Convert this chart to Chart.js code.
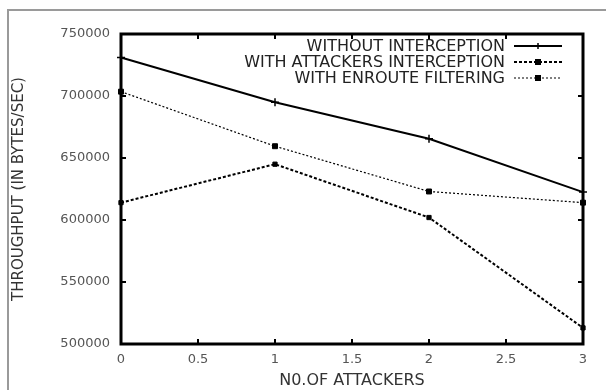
<!DOCTYPE html>
<html>
<head>
<meta charset="utf-8">
<script src="https://cdn.jsdelivr.net/npm/chart.js@4"></script>
<style>
  html, body { margin: 0; padding: 0; background: #fff; }
  #wrap { width: 606px; height: 390px; position: relative; }
</style>
</head>
<body>
<div id="wrap"><canvas id="myChart" width="606" height="390"></canvas></div>
<script>
let attackers = [0, 1, 2, 3];
let withoutInterception = [731000, 695000, 665500, 622500];
let attackersInterception = [614000, 645000, 602000, 513000];
let enrouteFiltering = [703500, 659500, 623000, 614000];
let yTicks = [500000, 550000, 600000, 650000, 700000, 750000];
let xTicks = [0, 0.5, 1, 1.5, 2, 2.5, 3];

function pts(vals) {
    return attackers.map((a, i) => ({ x: a, y: vals[i] }));
}

// gnuplot style frame, inward ticks and legend
let gnuplotLook = {
    id: "gnuplotLook",
    beforeDraw(chart) {
        let ctx = chart.ctx;
        ctx.save();
        ctx.strokeStyle = "#9a9a9a";
        ctx.lineWidth = 2;
        ctx.beginPath();
        ctx.moveTo(8, 400);
        ctx.lineTo(8, 10);
        ctx.lineTo(610, 10);
        ctx.stroke();
        ctx.restore();
    },
    afterDatasetsDraw(chart) {
        let ctx = chart.ctx;
        let a = chart.chartArea;
        let xs = chart.scales.x, ys = chart.scales.y;
        ctx.save();
        ctx.strokeStyle = "#000";
        ctx.lineWidth = 3;
        ctx.strokeRect(a.left, a.top, a.right - a.left, a.bottom - a.top);
        ctx.lineWidth = 2;
        ctx.beginPath();
        xTicks.forEach(t => {
            let px = xs.getPixelForValue(t);
            ctx.moveTo(px, a.bottom); ctx.lineTo(px, a.bottom - 5);
            ctx.moveTo(px, a.top); ctx.lineTo(px, a.top + 5);
        });
        yTicks.forEach(t => {
            let py = ys.getPixelForValue(t);
            ctx.moveTo(a.left, py); ctx.lineTo(a.left + 5, py);
            ctx.moveTo(a.right, py); ctx.lineTo(a.right - 5, py);
        });
        ctx.stroke();

        // legend
        ctx.font = "16px 'DejaVu Sans', sans-serif";
        ctx.textAlign = "right";
        ctx.textBaseline = "middle";
        chart.data.datasets.forEach((ds, i) => {
            let y = 46 + i * 16;
            ctx.fillStyle = "#222";
            ctx.fillText(ds.label, 505, y + 1);
            ctx.strokeStyle = "#000";
            ctx.lineWidth = ds.borderWidth;
            ctx.setLineDash(ds.borderDash || []);
            ctx.beginPath();
            ctx.moveTo(514, y);
            ctx.lineTo(562, y);
            ctx.stroke();
            ctx.setLineDash([]);
            ctx.fillStyle = "#000";
            if (ds.pointStyle === "cross") {
                ctx.lineWidth = 1.5;
                ctx.beginPath();
                ctx.moveTo(538, y - 3); ctx.lineTo(538, y + 3);
                ctx.stroke();
            } else {
                ctx.fillRect(535, y - 3, 6, 6);
            }
        });
        ctx.restore();
    }
};

new Chart(document.getElementById("myChart"), {
    type: "line",
    data: {
        datasets: [
            {
                label: "WITHOUT INTERCEPTION",
                data: pts(withoutInterception),
                borderColor: "#000",
                backgroundColor: "#000",
                borderWidth: 2,
                pointStyle: "cross",
                pointRadius: 4,
                pointBorderWidth: 1.5
            },
            {
                label: "WITH ATTACKERS INTERCEPTION",
                data: pts(attackersInterception),
                borderColor: "#000",
                backgroundColor: "#000",
                borderWidth: 2,
                borderDash: [3, 2],
                pointStyle: "rect",
                pointRadius: 3,
                pointBorderWidth: 1
            },
            {
                label: "WITH ENROUTE FILTERING",
                data: pts(enrouteFiltering),
                borderColor: "#000",
                backgroundColor: "#000",
                borderWidth: 1.2,
                borderDash: [2, 2],
                pointStyle: "rect",
                pointRadius: 3.5,
                pointBorderWidth: 1
            }
        ]
    },
    options: {
        responsive: false,
        animation: false,
        clip: false,
        layout: { padding: { top: 34, right: 23, left: 0, bottom: 0 } },
        plugins: { legend: { display: false }, tooltip: { enabled: false } },
        scales: {
            x: {
                type: "linear",
                min: 0,
                max: 3,
                afterBuildTicks: s => { s.ticks = xTicks.map(v => ({ value: v })); },
                afterFit: s => { s.height = 46; },
                grid: { display: false, drawTicks: false },
                border: { display: false },
                ticks: {
                    color: "#555",
                    padding: 8,
                    maxRotation: 0,
                    callback: v => String(v),
                    font: { family: "'DejaVu Sans'", size: 13 }
                },
                title: {
                    display: true,
                    text: "N0.OF ATTACKERS",
                    color: "#333",
                    padding: { top: 0, bottom: 0 },
                    font: { family: "'DejaVu Sans'", size: 16 }
                }
            },
            y: {
                min: 500000,
                max: 750000,
                afterBuildTicks: s => { s.ticks = yTicks.map(v => ({ value: v })); },
                afterFit: s => { s.width = 121; },
                grid: { display: false, drawTicks: false },
                border: { display: false },
                ticks: {
                    color: "#555",
                    padding: 11,
                    callback: v => String(v),
                    font: { family: "'DejaVu Sans'", size: 13 }
                },
                title: {
                    display: true,
                    text: "THROUGHPUT (IN BYTES/SEC)",
                    color: "#333",
                    padding: { top: 10, bottom: 0 },
                    font: { family: "'DejaVu Sans'", size: 15 }
                }
            }
        }
    },
    plugins: [gnuplotLook]
});
</script>
</body>
</html>
